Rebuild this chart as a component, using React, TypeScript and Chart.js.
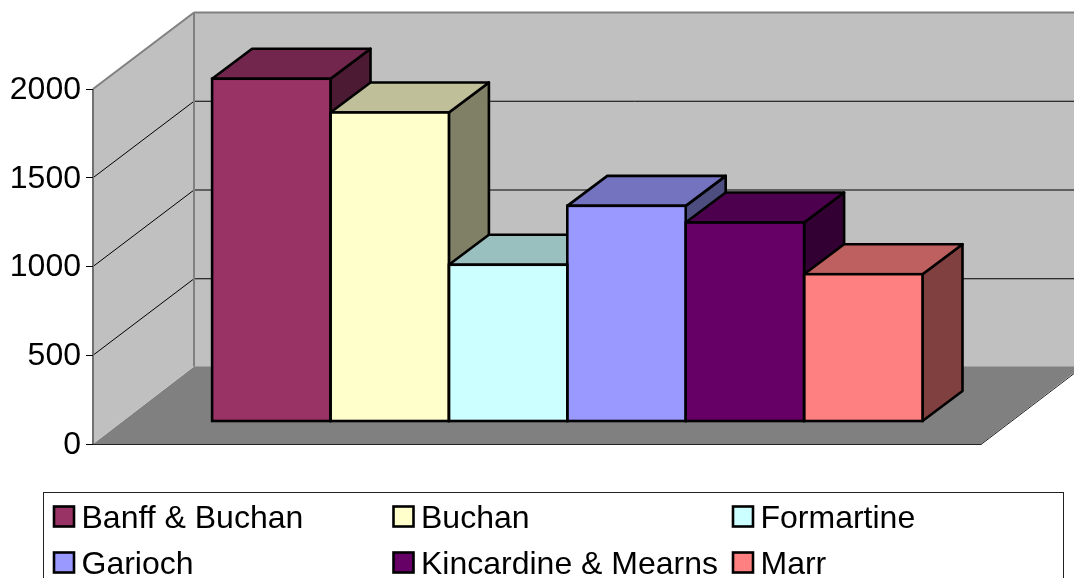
import React, { useEffect, useRef } from "react";
import { Chart, registerables } from "chart.js";

Chart.register(...registerables);

const categories = [""];
const seriesNames = ["Banff & Buchan", "Buchan", "Formartine", "Garioch", "Kincardine & Mearns", "Marr"];
const seriesValues = [1931, 1741, 883, 1215, 1121, 830];
const seriesColors = ["#993366", "#FFFFCC", "#CCFFFF", "#9999FF", "#660066", "#FF8080"];
const FONT = '"Liberation Sans", Arial, sans-serif';

const shade = (hex: string, k: number) => {
  const n = parseInt(hex.slice(1), 16);
  const c = [(n >> 16) & 255, (n >> 8) & 255, n & 255].map((v) => Math.round(v * k));
  return `rgb(${c[0]},${c[1]},${c[2]})`;
};

const poly = (ctx: CanvasRenderingContext2D, pts: number[][], fill: string | null, stroke: string | null, lw = 1) => {
  ctx.beginPath();
  pts.forEach((p, i) => (i ? ctx.lineTo(p[0], p[1]) : ctx.moveTo(p[0], p[1])));
  ctx.closePath();
  if (fill) {
    ctx.fillStyle = fill;
    ctx.fill();
  }
  if (stroke) {
    ctx.strokeStyle = stroke;
    ctx.lineWidth = lw;
    ctx.lineJoin = "round";
    ctx.stroke();
  }
};

const line = (ctx: CanvasRenderingContext2D, x1: number, y1: number, x2: number, y2: number, color: string, lw = 1) => {
  ctx.beginPath();
  ctx.moveTo(x1, y1);
  ctx.lineTo(x2, y2);
  ctx.strokeStyle = color;
  ctx.lineWidth = lw;
  ctx.stroke();
};

// oblique projection of the Excel-style 3D plot
const WALL_DX = 101;
const WALL_DY = -76.5;
const BAR_SHIFT_X = 30.3;
const BAR_SHIFT_Y = -22.5;
const BAR_DX = 40;
const BAR_DY = -30;
const EDGE = 2.6;

const plot3d = {
  id: "plot3d",
  beforeDraw(chart: any) {
    const { ctx, chartArea: a, scales } = chart;
    ctx.save();
    ctx.fillStyle = "#fff";
    ctx.fillRect(0, 0, chart.width, chart.height);
    const dx = WALL_DX;
    const dy = WALL_DY;
    // back wall
    poly(ctx, [[a.left + dx, a.top + dy], [a.right + dx, a.top + dy], [a.right + dx, a.bottom + dy], [a.left + dx, a.bottom + dy]], "#C0C0C0", null);
    // floor
    poly(ctx, [[a.left, a.bottom], [a.left + dx, a.bottom + dy - 1], [a.right + dx, a.bottom + dy - 1], [a.right, a.bottom]], "#808080", null);
    // left wall
    poly(ctx, [[a.left, a.top], [a.left + dx, a.top + dy], [a.left + dx, a.bottom + dy - 1], [a.left, a.bottom]], "#C0C0C0", null);
    // gridlines
    scales.y.ticks.forEach((t: any) => {
      const y = scales.y.getPixelForValue(t.value);
      if (t.value > 0 && t.value < 2000) {
        line(ctx, a.left, y, a.left + dx, y + dy, "#000", 1);
        line(ctx, a.left + dx, y + dy, a.right + dx, y + dy, "#000", 1);
      }
    });
    // wall outlines
    line(ctx, a.left, a.bottom, a.left, a.top, "#707070", 2);
    line(ctx, a.left, a.top, a.left + dx, a.top + dy, "#808080", 2);
    line(ctx, a.left + dx, a.top + dy, a.right + dx, a.top + dy, "#808080", 2);
    line(ctx, a.left + dx, a.top + dy, a.left + dx, a.bottom + dy - 1, "#808080", 2);
    // floor front edges
    line(ctx, a.left, a.bottom + 0.5, a.right, a.bottom + 0.5, "#222", 1);
    line(ctx, a.right, a.bottom + 0.5, a.right + dx, a.bottom + dy, "#222", 1);
    ctx.restore();
  },
  beforeDatasetsDraw(chart: any) {
    const { ctx } = chart;
    ctx.save();
    ctx.translate(BAR_SHIFT_X, BAR_SHIFT_Y);
    chart.data.datasets.forEach((ds: any, i: number) => {
      const el = chart.getDatasetMeta(i).data[0];
      const l = el.x - el.width / 2;
      const r = el.x + el.width / 2;
      const col = ds.backgroundColor as string;
      poly(ctx, [[r, el.y], [r + BAR_DX, el.y + BAR_DY], [r + BAR_DX, el.base + BAR_DY], [r, el.base]], shade(col, 0.5), "#000", EDGE);
      poly(ctx, [[l, el.y], [l + BAR_DX, el.y + BAR_DY], [r + BAR_DX, el.y + BAR_DY], [r, el.y]], shade(col, 0.75), "#000", EDGE);
    });
  },
  afterDatasetsDraw(chart: any) {
    const { ctx } = chart;
    chart.data.datasets.forEach((_: any, i: number) => {
      const el = chart.getDatasetMeta(i).data[0];
      ctx.strokeStyle = "#000";
      ctx.lineWidth = EDGE;
      ctx.lineJoin = "miter";
      ctx.strokeRect(el.x - el.width / 2, el.y, el.width, el.base - el.y);
    });
    ctx.restore();
  },
  afterDraw(chart: any) {
    const { ctx } = chart;
    ctx.save();
    ctx.fillStyle = "#fff";
    ctx.strokeStyle = "#222";
    ctx.lineWidth = 1;
    ctx.fillRect(43.5, 492.5, 1020, 100);
    ctx.strokeRect(43.5, 492.5, 1020, 100);
    const colX = [54, 393.5, 733];
    const rowY = [506.5, 552.5];
    ctx.font = `32px ${FONT}`;
    ctx.textBaseline = "alphabetic";
    chart.data.datasets.forEach((ds: any, i: number) => {
      const x = colX[i % 3];
      const y = rowY[Math.floor(i / 3)];
      ctx.fillStyle = ds.backgroundColor;
      ctx.fillRect(x, y, 20, 20);
      ctx.strokeStyle = "#000";
      ctx.lineWidth = 2.6;
      ctx.strokeRect(x, y, 20, 20);
      ctx.fillStyle = "#000";
      ctx.fillText(ds.label, x + 27.5, y + 21.5);
    });
    ctx.restore();
  },
};

export default function App() {
  const ref = useRef<HTMLCanvasElement>(null);
  useEffect(() => {
    if (!ref.current) return;
    const chart = new Chart(ref.current, {
      type: "bar",
      data: {
        labels: categories,
        datasets: seriesNames.map((name, i) => ({
          label: name,
          data: [seriesValues[i]],
          backgroundColor: seriesColors[i],
          borderWidth: 0,
          categoryPercentage: 0.8,
          barPercentage: 1,
          clip: false as any,
        })),
      },
      options: {
        responsive: false,
        animation: false,
        devicePixelRatio: 1,
        layout: { padding: { top: 89, bottom: 134, right: 93, left: 0 } },
        plugins: { legend: { display: false }, tooltip: { enabled: false }, title: { display: false } },
        scales: {
          x: { display: false },
          y: {
            min: 0,
            max: 2000,
            afterFit: (s: any) => {
              s.width = 93;
            },
            border: { display: false },
            grid: { drawOnChartArea: false, drawTicks: true, tickLength: 7, tickColor: "#000", tickWidth: 1 },
            ticks: {
              stepSize: 500,
              padding: 5,
              labelOffset: 1,
              color: "#000",
              font: { family: FONT, size: 32 },
              callback: (v: any) => String(v),
            },
          },
        },
      },
      plugins: [plot3d],
    } as any);
    return () => chart.destroy();
  }, []);
  return (
    <canvas
      ref={ref}
      width={1074}
      height={578}
      style={{ position: "absolute", left: 0, top: 0, width: 1074, height: 578, display: "block" }}
    />
  );
}
